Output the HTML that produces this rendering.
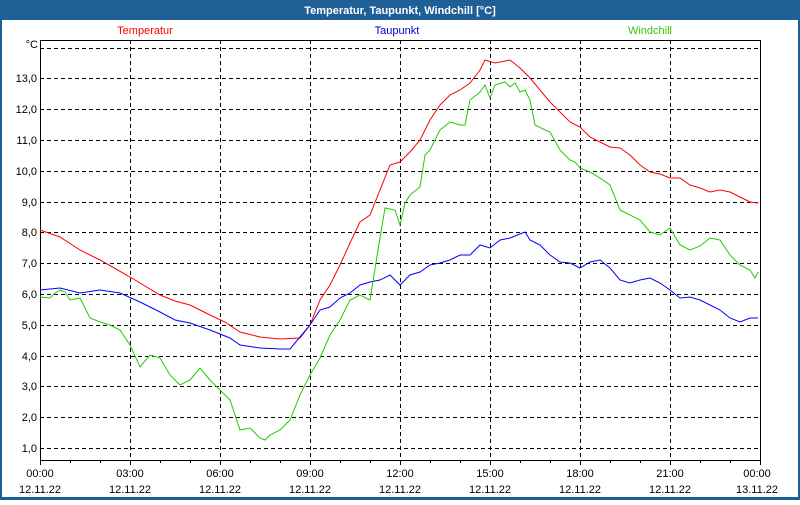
<!DOCTYPE html>
<html><head><style>
body{margin:0;width:800px;height:500px;overflow:hidden;background:#fff;}
</style></head><body>
<svg width="800" height="500" xmlns="http://www.w3.org/2000/svg" font-family="Liberation Sans, sans-serif" font-size="11">
<rect x="0" y="0" width="800" height="500" fill="#1e5f96"/>
<rect x="2" y="20" width="796" height="477" fill="#fff"/>
<text x="400" y="14" fill="#fff" font-weight="bold" text-anchor="middle">Temperatur, Taupunkt, Windchill [°C]</text>
<text x="145" y="34" fill="#ff0000" text-anchor="middle">Temperatur</text>
<text x="397" y="34" fill="#0000cc" text-anchor="middle">Taupunkt</text>
<text x="650" y="34" fill="#33cc00" text-anchor="middle">Windchill</text>
<g stroke="#000" stroke-dasharray="4,3" stroke-width="1">
<line x1="40" y1="48.5" x2="760" y2="48.5"/>
<line x1="40" y1="78.5" x2="760" y2="78.5"/>
<line x1="40" y1="109.5" x2="760" y2="109.5"/>
<line x1="40" y1="140.5" x2="760" y2="140.5"/>
<line x1="40" y1="171.5" x2="760" y2="171.5"/>
<line x1="40" y1="202.5" x2="760" y2="202.5"/>
<line x1="40" y1="232.5" x2="760" y2="232.5"/>
<line x1="40" y1="263.5" x2="760" y2="263.5"/>
<line x1="40" y1="294.5" x2="760" y2="294.5"/>
<line x1="40" y1="325.5" x2="760" y2="325.5"/>
<line x1="40" y1="356.5" x2="760" y2="356.5"/>
<line x1="40" y1="386.5" x2="760" y2="386.5"/>
<line x1="40" y1="417.5" x2="760" y2="417.5"/>
<line x1="40" y1="448.5" x2="760" y2="448.5"/>
<line x1="130.5" y1="40" x2="130.5" y2="460"/>
<line x1="220.5" y1="40" x2="220.5" y2="460"/>
<line x1="310.5" y1="40" x2="310.5" y2="460"/>
<line x1="400.5" y1="40" x2="400.5" y2="460"/>
<line x1="490.5" y1="40" x2="490.5" y2="460"/>
<line x1="580.5" y1="40" x2="580.5" y2="460"/>
<line x1="670.5" y1="40" x2="670.5" y2="460"/>
</g>
<rect x="40.5" y="40.5" width="720" height="420" fill="none" stroke="#000" stroke-width="1"/>
<g stroke="#000">
<path d="M40.5 460v5M70.5 460v3M100.5 460v3M130.5 460v5M160.5 460v3M190.5 460v3M220.5 460v5M250.5 460v3M280.5 460v3M310.5 460v5M340.5 460v3M370.5 460v3M400.5 460v5M430.5 460v3M460.5 460v3M490.5 460v5M520.5 460v3M550.5 460v3M580.5 460v5M610.5 460v3M640.5 460v3M670.5 460v5M700.5 460v3M730.5 460v3M760.5 460v5"/>
</g>
<g text-anchor="end" fill="#000">
<text x="38" y="48">°C</text>
<text x="37" y="82">13,0</text><text x="37" y="113">12,0</text><text x="37" y="144">11,0</text><text x="37" y="175">10,0</text><text x="37" y="206">9,0</text><text x="37" y="236">8,0</text><text x="37" y="267">7,0</text><text x="37" y="298">6,0</text><text x="37" y="329">5,0</text><text x="37" y="360">4,0</text><text x="37" y="390">3,0</text><text x="37" y="421">2,0</text><text x="37" y="452">1,0</text>
</g>
<g text-anchor="middle" fill="#000">
<text x="40" y="477">00:00</text><text x="40" y="493">12.11.22</text>
<text x="130" y="477">03:00</text><text x="130" y="493">12.11.22</text>
<text x="220" y="477">06:00</text><text x="220" y="493">12.11.22</text>
<text x="310" y="477">09:00</text><text x="310" y="493">12.11.22</text>
<text x="400" y="477">12:00</text><text x="400" y="493">12.11.22</text>
<text x="490" y="477">15:00</text><text x="490" y="493">12.11.22</text>
<text x="580" y="477">18:00</text><text x="580" y="493">12.11.22</text>
<text x="670" y="477">21:00</text><text x="670" y="493">12.11.22</text>
<text x="757" y="477">00:00</text><text x="757" y="493">13.11.22</text>
</g>
<g fill="none" stroke-width="1">
<polyline stroke="#ff0000" points="40,230 60,237 80,250 100,260 130,277 160,295 175,301 190,305 210,315 225,322 240,332 260,337 280,339 300,338 310,325 320,300 330,285 340,265 350,243 360,222 370,215 380,190 390,165 400,162 410,152 420,140 430,120 440,105 450,95 460,90 470,83 480,70 485,60 495,63 510,60 520,68 530,78 540,90 550,102 560,112 570,122 580,127 590,137 600,142 610,147 620,148 630,155 640,165 650,172 660,174 670,178 680,178 690,185 700,188 710,192 720,190 730,192 740,197 750,202 758,203"/>
<polyline stroke="#0000ff" points="40,290 60,288 80,293 100,290 120,293 140,302 160,312 175,320 190,323 210,330 230,338 240,345 260,348 280,349 290,349 300,337 310,325 320,310 330,307 340,298 350,293 360,285 370,282 380,280 390,275 400,285 410,275 420,272 430,265 440,263 450,260 460,255 470,255 480,245 490,248 500,240 510,238 525,232 530,240 540,245 550,255 560,262 570,263 580,268 590,262 600,260 610,268 620,280 630,283 640,280 650,278 660,283 670,290 680,298 690,297 700,300 710,305 720,310 730,318 740,322 750,318 758,318"/>
<polyline stroke="#22cc00" points="40,297 50,298 55,293 60,290 65,292 70,300 80,298 90,318 100,322 110,325 120,330 130,345 140,367 150,355 160,358 170,375 180,385 190,380 200,368 210,380 220,390 230,400 240,430 250,428 260,438 265,440 270,435 280,430 290,420 300,395 310,375 320,358 330,335 340,320 350,300 360,295 370,300 378,250 385,208 395,210 400,225 405,203 410,195 420,187 425,155 430,150 440,130 450,122 460,125 465,125 470,100 480,92 485,85 490,98 495,85 505,82 510,87 515,83 520,92 525,90 530,100 535,125 545,130 550,132 560,150 570,160 575,162 580,168 590,172 600,178 610,185 620,210 630,215 640,220 650,232 660,235 670,228 680,245 690,250 700,246 710,238 720,240 730,255 740,265 750,270 755,278 758,272"/>
</g>
</svg>
</body></html>
